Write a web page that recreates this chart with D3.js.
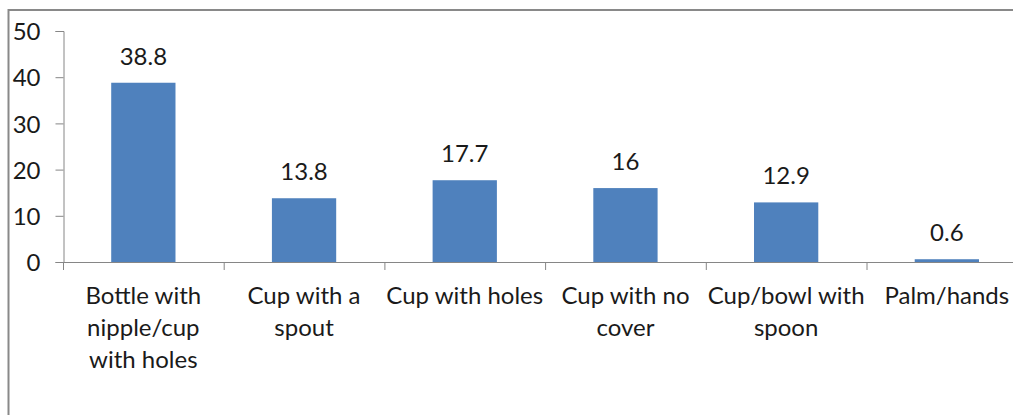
<!DOCTYPE html>
<html>
<head>
<meta charset="utf-8">
<script src="https://cdn.jsdelivr.net/npm/d3@7"></script>
<style>
  body { margin: 0; background: #fff; }
  svg text { font-family: Lato, "Open Sans", sans-serif; fill: #1a1a1a; }
</style>
</head>
<body>
<svg id="chart" width="1013" height="415"></svg>
<script>
// data
var categories = ["Bottle with nipple/cup with holes", "Cup with a spout", "Cup with holes",
                  "Cup with no cover", "Cup/bowl with spoon", "Palm/hands"];
var labelLines = [["Bottle with", "nipple/cup", "with holes"], ["Cup with a", "spout"], ["Cup with holes"],
                  ["Cup with no", "cover"], ["Cup/bowl with", "spoon"], ["Palm/hands"]];
var values = [38.8, 13.8, 17.7, 16, 12.9, 0.6];
var yTicks = [0, 10, 20, 30, 40, 50];

var data = categories.map((c, i) => ({cat: c, value: values[i], lines: labelLines[i]}));

var svg = d3.select("#chart");
var margin = {left: 63, top: 31, bottom: 262};

// chart frame (only top and left edges fall inside the picture)
svg.append("rect")
    .attr("x", 8.5).attr("y", 10)
    .attr("width", 1100).attr("height", 600)
    .attr("fill", "none")
    .attr("stroke", "#898989")
    .attr("stroke-width", 2);

var x = d3.scaleBand()
    .domain(categories)
    .range([margin.left, margin.left + 6 * 160.7])
    .paddingInner(0.6)
    .paddingOuter(0.3);

var y = d3.scaleLinear()
    .domain([0, 50])
    .range([margin.bottom, margin.top]);

// y axis
var yAxis = svg.append("g")
    .attr("transform", `translate(${margin.left + 0.5},0)`)
    .call(d3.axisLeft(y).tickValues(yTicks).tickSize(8).tickPadding(15).tickFormat(d3.format("d")));
yAxis.selectAll("path, line").attr("stroke", "#868686");
yAxis.selectAll("text").style("font-size", "24px").attr("dy", "0.36em");

// bars
svg.selectAll(".bar")
    .data(data)
    .join("rect")
    .attr("class", "bar")
    .attr("x", d => x(d.cat))
    .attr("width", x.bandwidth())
    .attr("y", d => y(d.value))
    .attr("height", d => y(0) - y(d.value))
    .attr("fill", "#4f81bd");

// x axis line and ticks between categories
var step = x.step();
var x0 = x.range()[0];
svg.append("line")
    .attr("x1", x0).attr("x2", x.range()[1])
    .attr("y1", y(0) + 0.5).attr("y2", y(0) + 0.5)
    .attr("stroke", "#868686");
svg.selectAll(".xtick")
    .data(d3.range(categories.length + 1))
    .join("line")
    .attr("class", "xtick")
    .attr("x1", i => x0 + i * step + 0.5).attr("x2", i => x0 + i * step + 0.5)
    .attr("y1", y(0)).attr("y2", y(0) + 8)
    .attr("stroke", "#868686");

// value labels
svg.selectAll(".val")
    .data(data)
    .join("text")
    .attr("class", "val")
    .attr("x", d => x(d.cat) + x.bandwidth() / 2)
    .attr("y", d => y(d.value) - 18)
    .attr("text-anchor", "middle")
    .style("font-size", "24px")
    .text(d => d.value);

// category labels
var catText = svg.selectAll(".cat")
    .data(data)
    .join("text")
    .attr("class", "cat")
    .attr("text-anchor", "middle")
    .style("font-size", "24px");
catText.selectAll("tspan")
    .data(d => d.lines.map(l => ({l: l, cx: x(d.cat) + x.bandwidth() / 2})))
    .join("tspan")
    .attr("x", t => t.cx)
    .attr("y", (t, i) => 304 + i * 32)
    .text(t => t.l);
</script>
</body>
</html>
